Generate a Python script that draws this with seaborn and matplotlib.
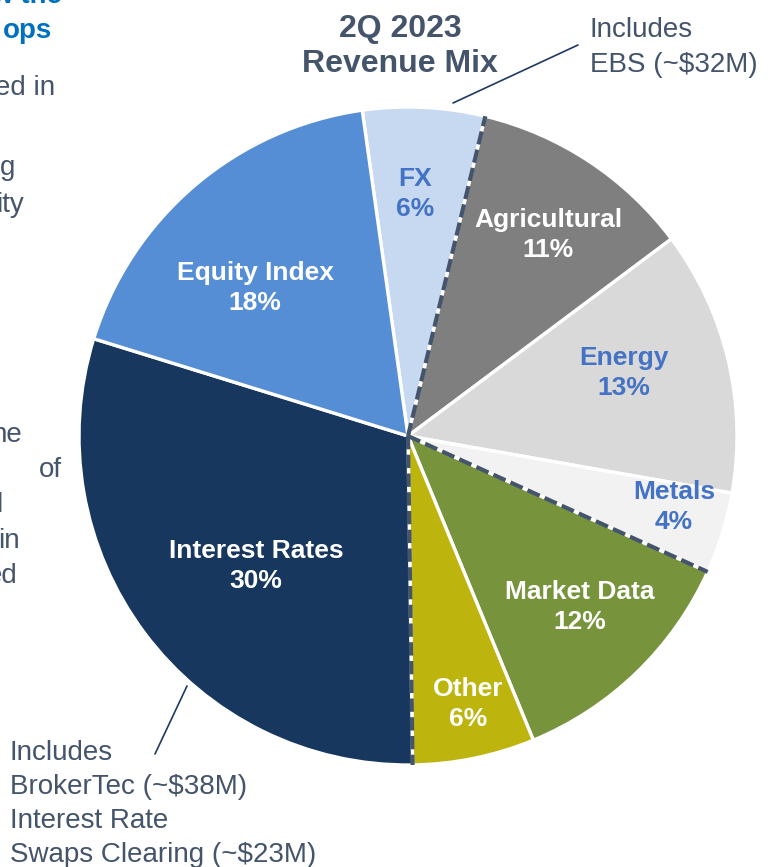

# 2Q 2023 revenue mix - pie chart with callouts

import matplotlib
matplotlib.use("Agg")
import matplotlib.pyplot as plt
from matplotlib.lines import Line2D
import numpy as np
import seaborn as sns

# data
segments = ["FX", "Agricultural", "Energy", "Metals", "Market Data",
            "Other", "Interest Rates", "Equity Index"]
shares = [6, 11, 13, 4, 12, 6, 30, 18]
slice_colors = ["#c6d9f1", "#7f7f7f", "#d9d9d9", "#f2f2f2", "#77933c",
                "#bdb50e", "#17375e", "#558ed5"]
label_colors = ["#4472c4", "white", "#4472c4", "#4472c4", "white",
                "white", "white", "white"]
# label centres, in units of the pie radius (hand placed on the slide)
label_xy = [(0.021, 0.736), (0.426, 0.611), (0.657, 0.191), (0.809, -0.216),
            (0.523, -0.520), (0.182, -0.815), (-0.462, -0.395), (-0.465, 0.450)]
dashed_after = ["FX", "Metals", "Other"]   # dashed boundary after these slices

ebs_note = ["Includes", "EBS (~$32M)"]
rates_note = ["Includes", "BrokerTec (~$38M)", "Interest Rate",
              "Swaps Clearing (~$23M)"]

sns.set_theme(style="white")
plt.rcParams["font.family"] = ["Liberation Sans", "DejaVu Sans"]

W, H = 772, 867
fig = plt.figure(figsize=(W / 100, H / 100), dpi=100)


def fx(x):
    return x / W


def fy(y):
    return 1 - y / H


# pie axes: centre (408, 436) px, radius 329 px
cx, cy, r = 408, 436, 329
ax = fig.add_axes([fx(cx - r), fy(cy + r), 2 * r / W, 2 * r / H])

wedges, _ = ax.pie(shares, colors=slice_colors, startangle=98, counterclock=False,
                   radius=1, wedgeprops=dict(edgecolor="white", linewidth=2.4))
ax.set_xlim(-1, 1)
ax.set_ylim(-1, 1)
ax.set_aspect("equal")
ax.axis("off")

for name, pct, col, (lx, ly) in zip(segments, shares, label_colors, label_xy):
    ax.text(lx, ly, f"{name}\n{pct}%", ha="center", va="center", color=col,
            fontsize=19, fontweight="bold", linespacing=1.33)

# dashed group boundaries
for name in dashed_after:
    w = wedges[segments.index(name)]
    a = np.deg2rad(w.theta1)
    ax.plot([0, np.cos(a)], [0, np.sin(a)], color="#44546a", lw=3.0,
            dashes=(3.2, 1.3), solid_capstyle="butt", zorder=5)

# title
slate = "#44546a"
fig.text(fx(400), fy(37), "2Q 2023", ha="center", va="baseline",
         fontsize=23, fontweight="bold", color=slate)
fig.text(fx(400), fy(72), "Revenue Mix", ha="center", va="baseline",
         fontsize=23, fontweight="bold", color=slate)

# callouts
for i, line in enumerate(ebs_note):
    fig.text(fx(590), fy(37 + 35 * i), line, ha="left", va="baseline",
             fontsize=20, color=slate)
for i, line in enumerate(rates_note):
    fig.text(fx(10), fy(760 + 34 * i), line, ha="left", va="baseline",
             fontsize=20, color=slate)

navy = "#1f3864"
fig.add_artist(Line2D([fx(453), fx(578)], [fy(103), fy(45)], color=navy, lw=1.2))
fig.add_artist(Line2D([fx(187), fx(155)], [fy(686), fy(754)], color=navy, lw=1.2))

# clipped slide text on the left edge
fig.text(fx(62), fy(3), "w the", ha="right", va="baseline", fontsize=20,
         fontweight="bold", color="#0070c0")
fig.text(fx(52), fy(38), "ops", ha="right", va="baseline", fontsize=20,
         fontweight="bold", color="#0070c0")
side_bits = [("ed in", 55, 95), ("g", 15, 175), ("ity", 24, 212),
             ("he", 22, 442), ("of", 62, 477), ("l", 2, 512),
             ("in", 20, 548), ("ed", 18, 583)]
for txt, x, y in side_bits:
    fig.text(fx(x), fy(y), txt, ha="right", va="baseline", fontsize=20, color=slate)

fig.savefig("out.png", dpi=100)
